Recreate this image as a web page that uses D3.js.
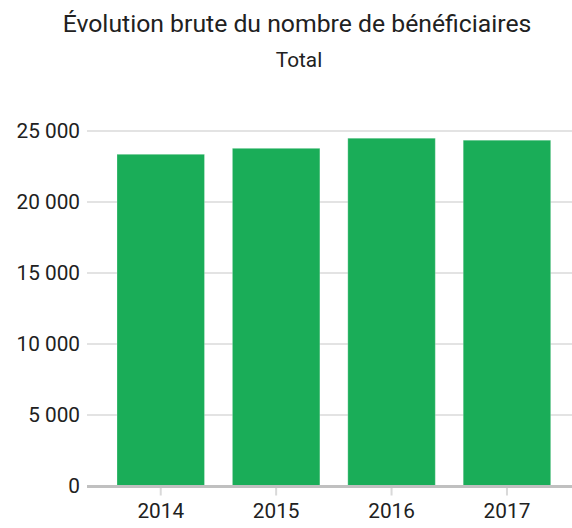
<!DOCTYPE html>
<html>
<head>
<meta charset="utf-8">
<script src="https://cdn.jsdelivr.net/npm/d3@7"></script>
<style>
  html, body { margin: 0; padding: 0; background: #fff; }
  svg { display: block; font-family: Roboto, "Noto Sans", sans-serif; }
</style>
</head>
<body>
<svg id="chart" width="572" height="528"></svg>
<script>
const title = "Évolution brute du nombre de bénéficiaires";
const subtitle = "Total";
const years = ["2014", "2015", "2016", "2017"];
const values = [23360, 23780, 24490, 24350];
const yTicks = [0, 5000, 10000, 15000, 20000, 25000];

const svg = d3.select("#chart");
const plotLeft = 87, plotRight = 572, plotTop = 131, plotBottom = 486;
const sx = 1.077; // horizontal stretch of the text

const x = d3.scaleBand().domain(years).range([plotLeft, 580.7]).paddingInner(0.242).paddingOuter(0.26);
const y = d3.scaleLinear().domain([0, 25000]).range([plotBottom, plotTop]);

const fmt = v => d3.format(",")(v).replace(/,/g, " ");

function stretchedText(parent, tx, ty, size, txt) {
  return parent.append("g").attr("transform", `translate(${tx},${ty}) scale(${sx},1)`)
    .append("text").attr("text-anchor", "middle")
    .attr("font-size", size).attr("fill", "#212121").text(txt);
}
stretchedText(svg, 297, 32.3, 23, title);
stretchedText(svg, 299, 66.5, 19.3, subtitle);

// gridlines
svg.append("g").selectAll("line").data(yTicks.filter(d => d > 0)).join("line")
  .attr("x1", plotLeft).attr("x2", plotRight)
  .attr("y1", d => y(d)).attr("y2", d => y(d))
  .attr("stroke", "#e3e3e3").attr("stroke-width", 2);

// y axis labels
const yAxis = d3.axisLeft(y).tickValues(yTicks).tickFormat(fmt).tickSize(0).tickPadding(0);
const gy = svg.append("g").attr("transform", `translate(${plotLeft - 7},0)`).call(yAxis);
gy.select(".domain").remove();
gy.selectAll("text").attr("x", 0).attr("font-size", 19.3).attr("fill", "#212121")
  .attr("font-family", "Roboto, sans-serif").attr("transform", `scale(${sx},1)`);

// bars
svg.append("g").selectAll("rect").data(years).join("rect")
  .attr("x", d => x(d)).attr("width", x.bandwidth())
  .attr("y", (d, i) => y(values[i])).attr("height", (d, i) => y(0) - y(values[i]))
  .attr("fill", "#1aad58")
  .attr("stroke", "#ffffff").attr("stroke-opacity", 0.25).attr("stroke-width", 1);

// x axis
const xAxis = d3.axisBottom(x).tickSize(8).tickPadding(9);
const gx = svg.append("g").attr("transform", `translate(0,${plotBottom + 1.5})`).call(xAxis);
gx.select(".domain").remove();
gx.selectAll(".tick line").attr("stroke", "#d9d9d9").attr("stroke-width", 2);
gx.selectAll("text").attr("font-size", 19.3).attr("fill", "#212121")
  .attr("font-family", "Roboto, sans-serif").attr("transform", `scale(${sx},1)`)
  .attr("x", 0);

svg.append("line").attr("x1", plotLeft).attr("x2", plotRight)
  .attr("y1", plotBottom + 0.5).attr("y2", plotBottom + 0.5)
  .attr("stroke", "#c0c0c0").attr("stroke-width", 3);
</script>
</body>
</html>
